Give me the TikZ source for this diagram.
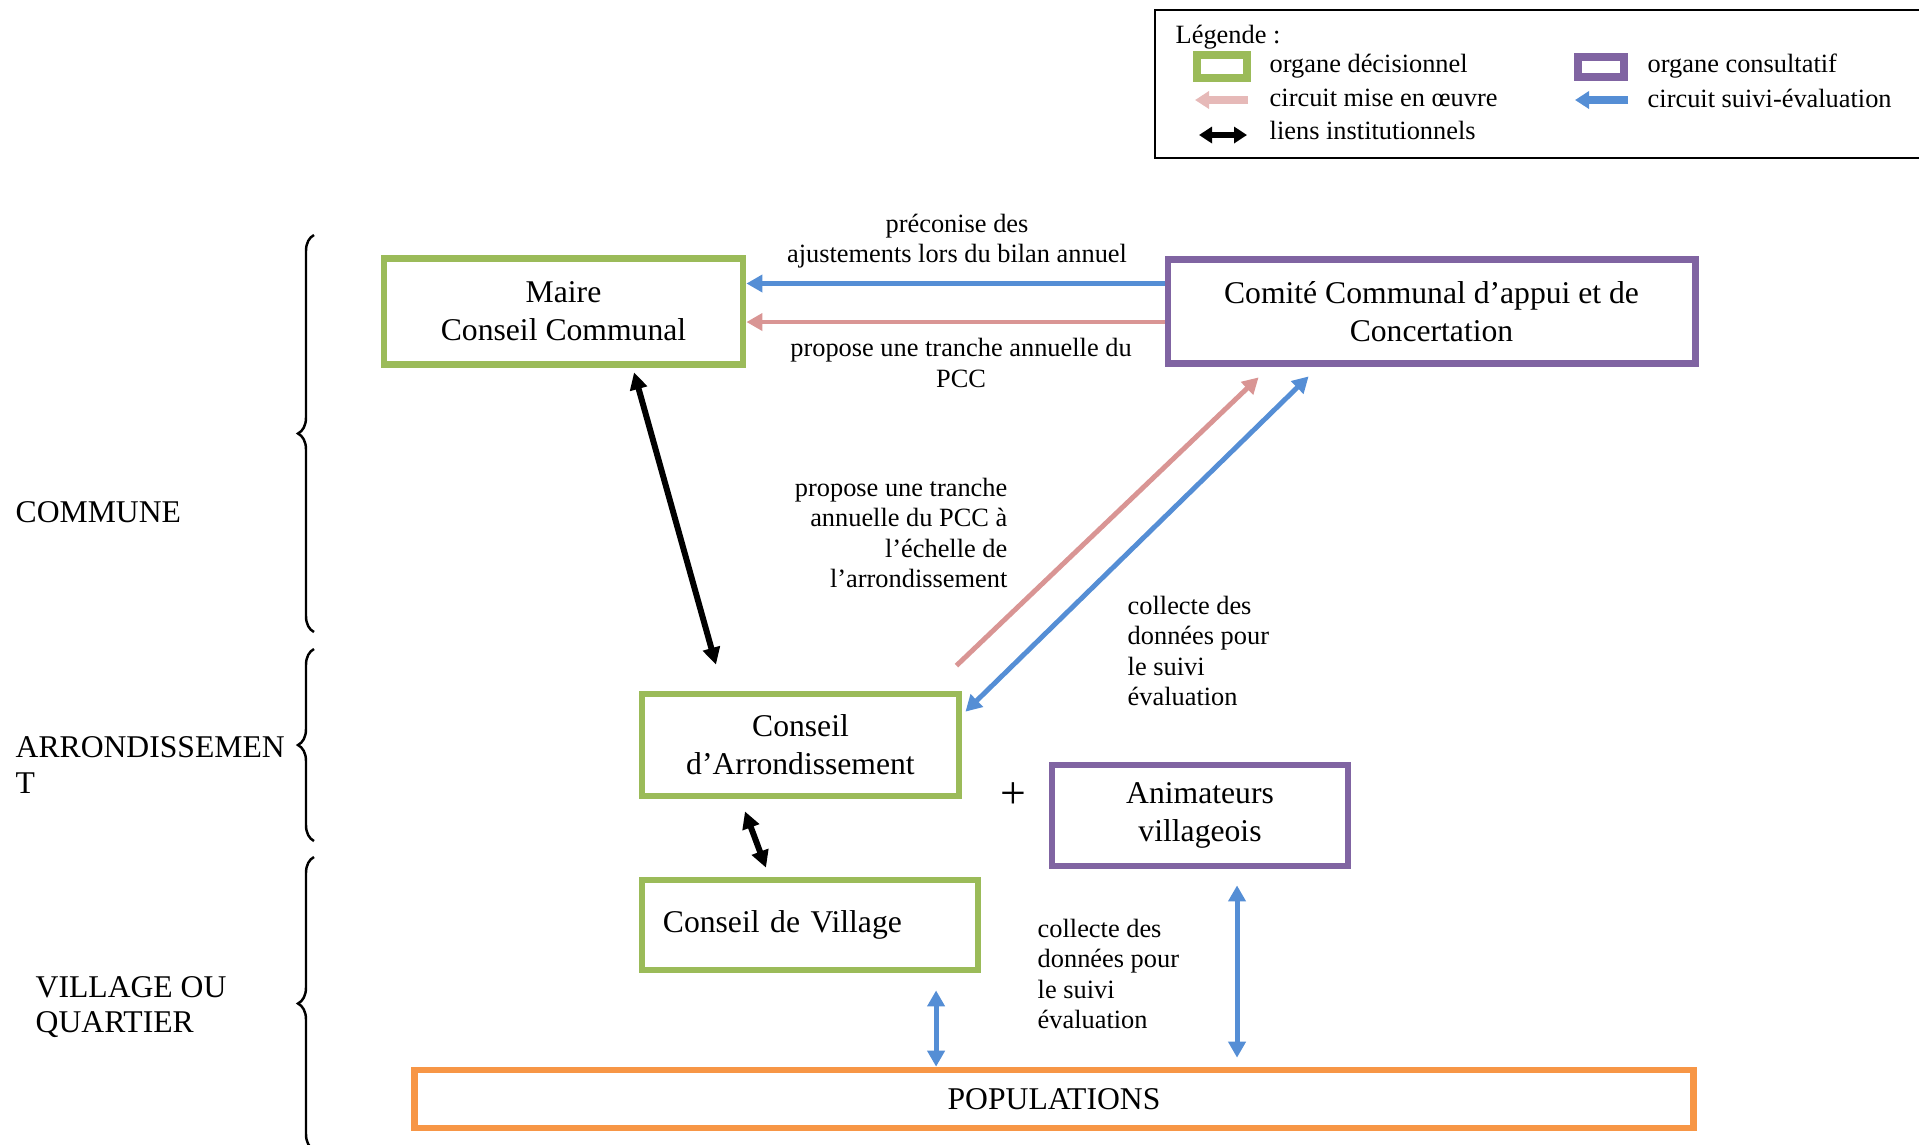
\documentclass[tikz,border=0pt]{standalone}
\usepackage{fontspec}
\setmainfont{Liberation Serif}
\usetikzlibrary{arrows.meta, positioning, decorations.pathreplacing}
\definecolor{decgreen}{RGB}{155, 187, 89}
\definecolor{conspurple}{RGB}{128, 100, 162}
\definecolor{miseenpink}{RGB}{217, 149, 148}
\definecolor{legpink}{RGB}{230, 185, 184}
\definecolor{suiviblue}{RGB}{85, 142, 213}
\definecolor{popsorange}{RGB}{247, 150, 70}

\begin{document}
\begin{tikzpicture}[
                x=0.01cm, y=-0.01cm,
                >={Triangle[length=0.16cm, width=0.17cm]},
                box/.style={
                    rectangle,
                    draw=decgreen,
                    line width=1.9pt,
                    align=center,
                    font=\fontsize{9}{10.8}\selectfont
                },
                consbox/.style={box, draw=conspurple},
                note/.style={inner sep=0pt, font=\fontsize{7.5}{8.7}\selectfont},
                level/.style={inner sep=0pt, anchor=west, align=left,
                    font=\fontsize{9}{10.2}\selectfont},
                legtext/.style={inner sep=0pt, anchor=west,
                    font=\fontsize{7.5}{9}\selectfont},
                suivi/.style={line width=1.4pt, suiviblue},
                miseen/.style={line width=1.4pt, miseenpink},
                lien/.style={{Triangle[length=0.17cm, width=0.17cm]}-{Triangle[length=0.17cm, width=0.17cm]},
                    line width=1.7pt, black},
                bracket/.style={decorate, decoration={brace, amplitude=0.16cm}, line width=0.7pt}
            ]

            \useasboundingbox (0,0) rectangle (1919,1144);

            % Legend
            \draw [line width=0.8pt] (1919,10) -- (1155,10) -- (1155,158) -- (1919,158);
            \node (legtitle) [legtext] at (1175,37) {Légende :};
            \draw [decgreen, line width=2.4pt] (1197,55) rectangle (1247,78);
            \node (legdec) [legtext] at (1269,66) {organe décisionnel};
            \draw [conspurple, line width=2.4pt] (1578,57) rectangle (1624,77);
            \node (legcons) [legtext] at (1647,66) {organe consultatif};
            \draw [legpink, line width=2.2pt, -{Triangle[length=0.14cm, width=0.17cm]}] (1248,100) -- (1195,100);
            \node (legmise) [legtext] at (1269,98) {circuit mise en œuvre};
            \draw [suiviblue, line width=2.2pt, -{Triangle[length=0.14cm, width=0.17cm]}] (1628,100) -- (1575,100);
            \node (legsuivi) [legtext] at (1647,98) {circuit suivi-évaluation};
            \draw [line width=1.6pt, {Triangle[length=0.13cm, width=0.16cm]}-{Triangle[length=0.13cm, width=0.16cm]}] (1199,135) -- (1247,135);
            \node (legliens) [legtext] at (1269,130) {liens institutionnels};

            % Levels
            \node (lvlcommune) [level] at (15,512) {COMMUNE};
            \node (lvlarrond) [level] at (15,765) {ARRONDISSEMEN\\T};
            \node (lvlvillage) [level] at (35,1007) {VILLAGE OU\\QUARTIER};
            \draw [bracket] (314,632) -- (314,235);
            \draw [bracket] (314,841) -- (314,649);
            \draw [bracket] (314,1150) -- (314,857);

            % Commune
            \node (maire) [box, minimum width=3.59cm, minimum height=1.06cm] at (563.5,311.5)
            {Maire\\Conseil Communal};

            \node (comite) [consbox, minimum width=5.27cm, minimum height=1.04cm] at (1431.5,311.5)
            {Comité Communal d’appui et de\\Concertation};

            % Arrondissement
            \node (arrond) [box, minimum width=3.17cm, minimum height=1.02cm] at (800.5,745)
            {Conseil\\d’Arrondissement};

            \node (plus) [font=\fontsize{13}{15}\selectfont] at (1013,796) {+};

            \node (animateurs) [consbox, minimum width=2.96cm, minimum height=1.01cm] at (1200,815.5)
            {Animateurs\\villageois};

            % Village
            \node (village) [box, minimum width=3.36cm, minimum height=0.90cm,
            text width=2.94cm, align=left] at (810,925)
            {Conseil de Village};

            \node (populations) [box, draw=popsorange, minimum width=12.78cm,
            minimum height=0.58cm] at (1054,1099)
            {POPULATIONS};

            % Labels
            \node (lblbilan) [note, align=center] at (957,241)
            {préconise des\\ajustements lors du bilan annuel};
            \node (lbltranche) [note, align=center] at (961,363)
            {propose une tranche annuelle du\\PCC};
            \node (lblarrond) [note, align=right, anchor=east] at (1008,533)
            {propose une tranche\\annuelle du PCC à\\l’échelle de\\l’arrondissement};
            \node (lblcollecte) [note, align=left, anchor=west] at (1127,651)
            {collecte des\\données pour\\le suivi\\évaluation};
            \node (lblcollectevil) [note, align=left, anchor=west] at (1037,974)
            {collecte des\\données pour\\le suivi\\évaluation};

            % Arrows
            \draw [suivi, ->] ([yshift=0.28cm]comite.west) -- ([yshift=0.28cm]maire.east);
            \draw [miseen, ->] ([yshift=-0.105cm]comite.west) -- ([yshift=-0.105cm]maire.east);
            \draw [lien] ([xshift=0.705cm, yshift=-0.045cm]maire.south)
                -- ([xshift=-0.845cm, yshift=0.26cm]arrond.north);
            \draw [miseen, ->] ([xshift=-0.06cm, yshift=0.25cm]arrond.north east)
                -- ([xshift=0.94cm, yshift=-0.105cm]comite.south west);
            \draw [suivi, <->] ([xshift=1.44cm, yshift=-0.095cm]comite.south west)
                -- ([xshift=0.03cm, yshift=-0.21cm]arrond.north east);
            \draw [lien] ([xshift=-0.555cm, yshift=-0.12cm]arrond.south)
                -- ([xshift=-0.44cm, yshift=0.09cm]village.north);

            \coordinate (vptop) at ([xshift=1.26cm, yshift=-0.17cm]village.south);
            \draw [suivi, <->] (vptop) -- (vptop |- populations.north);
            \coordinate (aptop) at ([xshift=0.37cm, yshift=-0.16cm]animateurs.south);
            \draw [suivi, <->, shorten >=0.09cm] (aptop) -- (aptop |- populations.north);

            \end{tikzpicture}
\end{document}
